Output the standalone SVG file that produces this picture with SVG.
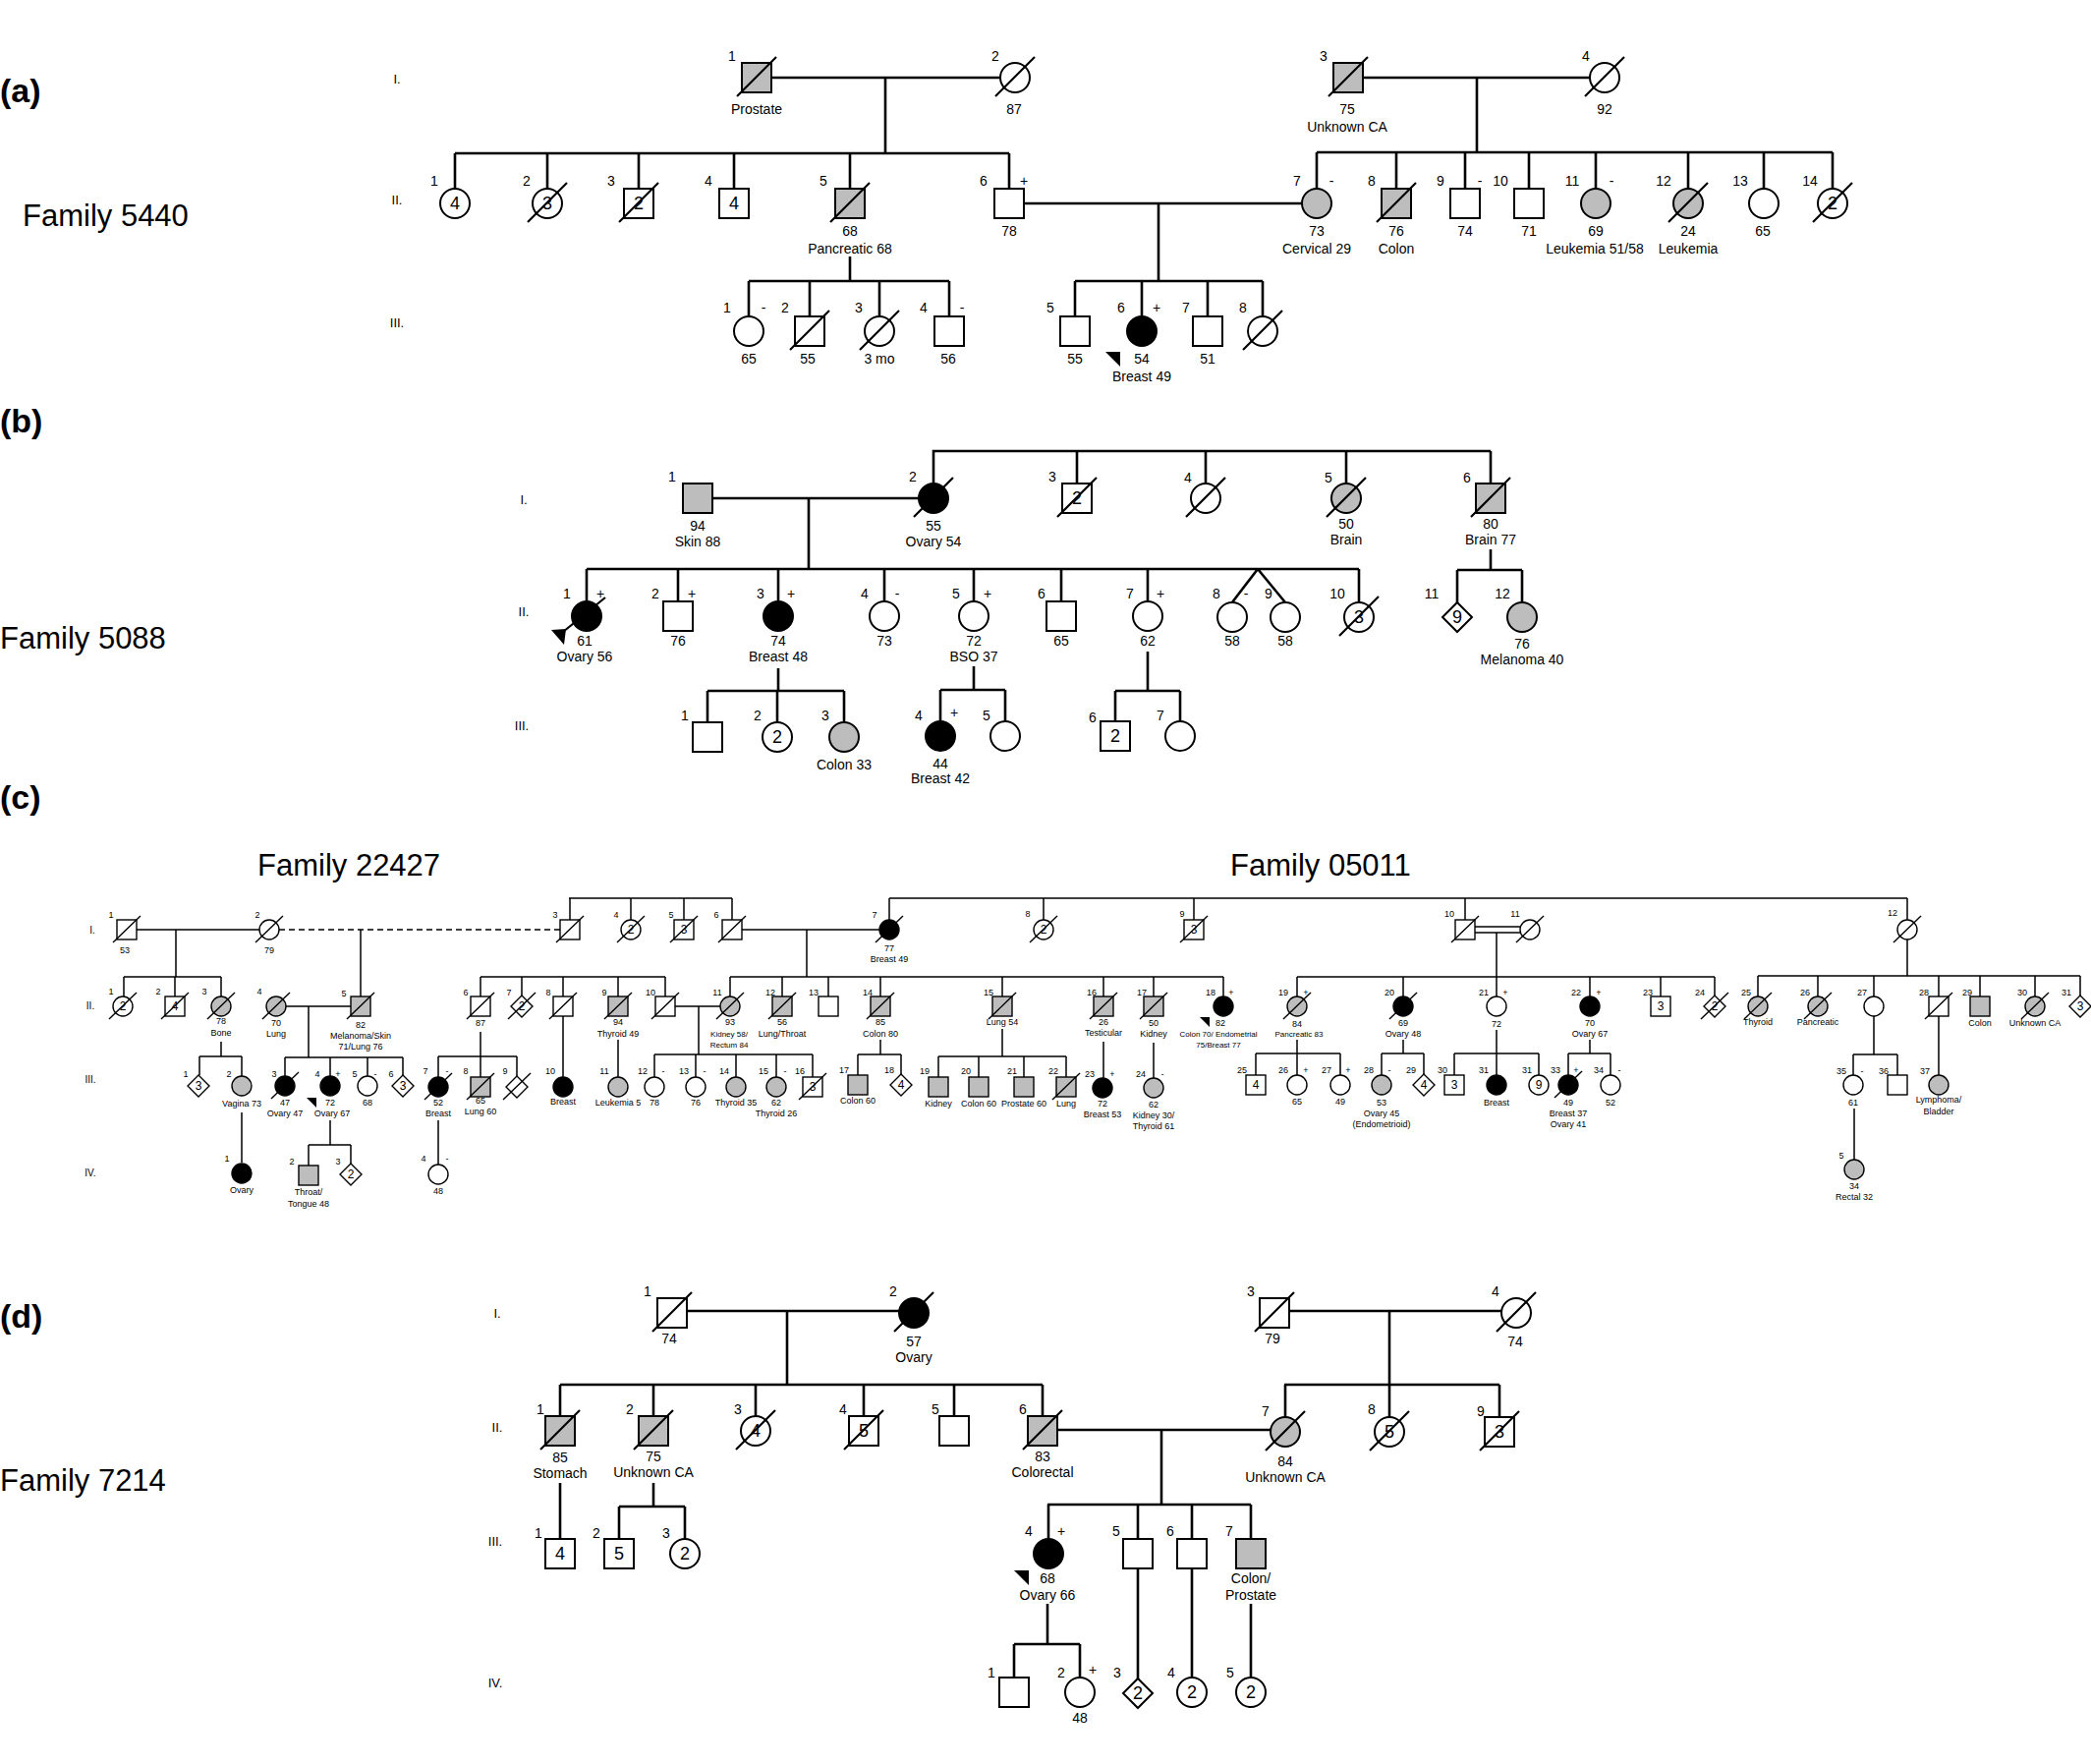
<svg xmlns="http://www.w3.org/2000/svg" xmlns:xlink="http://www.w3.org/1999/xlink" width="2128" height="1795" viewBox="0 0 2128 1795">
<style>
.L{stroke:#000;stroke-width:2.6;fill:none}
.l{stroke:#000;stroke-width:1.5;fill:none}
.dash{stroke:#000;stroke-width:1.5;fill:none;stroke-dasharray:6 4}
.w{fill:#fff}.g{fill:#bdbdbd}.b{fill:#000}
text{font-family:"Liberation Sans",Arial,sans-serif;fill:#000;text-anchor:middle}
.t{font-size:14px}
.i{font-size:18px}
.u{font-size:9px}
.u8{font-size:8px}
.v{font-size:12px}
.gen{font-size:13px}
.gc{font-size:10px}
.F{font-size:31px;text-anchor:start}
.P{font-size:34px;font-weight:bold;text-anchor:start}
</style>
<defs>
<rect id="S" x="-15" y="-15" width="30" height="30" stroke="#000" stroke-width="2"/>
<circle id="C" r="15" stroke="#000" stroke-width="2"/>
<path id="D" d="M0-15L15 0 0 15-15 0Z" stroke="#000" stroke-width="2"/>
<path id="X" d="M-20 19L20-21" stroke="#000" stroke-width="2.2" fill="none"/>
<rect id="s" x="-10" y="-10" width="20" height="20" stroke="#000" stroke-width="1.4"/>
<circle id="c" r="10" stroke="#000" stroke-width="1.4"/>
<path id="d" d="M0-11L11 0 0 11-11 0Z" stroke="#000" stroke-width="1.4"/>
<path id="x" d="M-14 13L14-14" stroke="#000" stroke-width="1.4" fill="none"/>
<path id="PA" d="M0 0H15V15Z" fill="#000"/>
<path id="pa" d="M0 0H10V10Z" fill="#000"/>
</defs>
<rect width="2128" height="1795" fill="#fff"/>

<!-- ===== Panel (a) ===== -->
<g id="panel-a-labels">
<text class="P" x="0" y="104">(a)</text>
<text class="F" x="23" y="230">Family 5440</text>
<text class="gen" x="404" y="85">I.</text>
<text class="gen" x="404" y="208">II.</text>
<text class="gen" x="404" y="333">III.</text>
</g>
<g id="connectors-a" class="L">
<path d="M785 79H1018M901 79V156M463 156H1027M463 156V192M557 156V192M650 156V192M747 156V192M865 156V192M1027 156V192"/>
<path d="M1387 79H1618M1503 79V155M1340 155H1865M1340 155V192M1421 155V192M1491 155V192M1556 155V192M1624 155V192M1718 155V192M1795 155V192M1865 155V192"/>
<path d="M1042 207H1325M1179 207V286M1094 286H1285M1094 286V322M1162 286V322M1229 286V322M1285 286V322"/>
<path d="M865 261V286M762 286H966M762 286V322M824 286V322M895 286V322M966 286V322"/>
</g>
<g id="a-I1"><use href="#S" x="770" y="79" class="g"/><use href="#X" x="770" y="79"/><text class="t" x="745" y="62">1</text><text class="t" x="770" y="116">Prostate</text></g>
<g id="a-I2"><use href="#C" x="1033" y="79" class="w"/><use href="#X" x="1033" y="79"/><text class="t" x="1013" y="62">2</text><text class="t" x="1032" y="116">87</text></g>
<g id="a-I3"><use href="#S" x="1372" y="79" class="g"/><use href="#X" x="1372" y="79"/><text class="t" x="1347" y="62">3</text><text class="t" x="1371" y="116">75</text><text class="t" x="1371" y="134">Unknown CA</text></g>
<g id="a-I4"><use href="#C" x="1633" y="79" class="w"/><use href="#X" x="1633" y="79"/><text class="t" x="1614" y="62">4</text><text class="t" x="1633" y="116">92</text></g>
<g id="a-II1"><use href="#C" x="463" y="207" class="w"/><text class="i" x="463" y="213">4</text><text class="t" x="442" y="189">1</text></g>
<g id="a-II2"><use href="#C" x="557" y="207" class="w"/><text class="i" x="557" y="213">3</text><use href="#X" x="557" y="207"/><text class="t" x="536" y="189">2</text></g>
<g id="a-II3"><use href="#S" x="650" y="207" class="w"/><text class="i" x="650" y="213">2</text><use href="#X" x="650" y="207"/><text class="t" x="622" y="189">3</text></g>
<g id="a-II4"><use href="#S" x="747" y="207" class="w"/><text class="i" x="747" y="213">4</text><text class="t" x="721" y="189">4</text></g>
<g id="a-II5"><use href="#S" x="865" y="207" class="g"/><use href="#X" x="865" y="207"/><text class="t" x="838" y="189">5</text><text class="t" x="865" y="240">68</text><text class="t" x="865" y="258">Pancreatic 68</text></g>
<g id="a-II6"><use href="#S" x="1027" y="207" class="w"/><text class="t" x="1001" y="189">6</text><text class="t" x="1042" y="189">+</text><text class="t" x="1027" y="240">78</text></g>
<g id="a-II7"><use href="#C" x="1340" y="207" class="g"/><text class="t" x="1320" y="189">7</text><text class="t" x="1355" y="189">-</text><text class="t" x="1340" y="240">73</text><text class="t" x="1340" y="258">Cervical 29</text></g>
<g id="a-II8"><use href="#S" x="1421" y="207" class="g"/><use href="#X" x="1421" y="207"/><text class="t" x="1396" y="189">8</text><text class="t" x="1421" y="240">76</text><text class="t" x="1421" y="258">Colon</text></g>
<g id="a-II9"><use href="#S" x="1491" y="207" class="w"/><text class="t" x="1466" y="189">9</text><text class="t" x="1506" y="189">-</text><text class="t" x="1491" y="240">74</text></g>
<g id="a-II10"><use href="#S" x="1556" y="207" class="w"/><text class="t" x="1527" y="189">10</text><text class="t" x="1556" y="240">71</text></g>
<g id="a-II11"><use href="#C" x="1624" y="207" class="g"/><text class="t" x="1600" y="189">11</text><text class="t" x="1640" y="189">-</text><text class="t" x="1624" y="240">69</text><text class="t" x="1623" y="258">Leukemia 51/58</text></g>
<g id="a-II12"><use href="#C" x="1718" y="207" class="g"/><use href="#X" x="1718" y="207"/><text class="t" x="1693" y="189">12</text><text class="t" x="1718" y="240">24</text><text class="t" x="1718" y="258">Leukemia</text></g>
<g id="a-II13"><use href="#C" x="1795" y="207" class="w"/><text class="t" x="1771" y="189">13</text><text class="t" x="1794" y="240">65</text></g>
<g id="a-II14"><use href="#C" x="1865" y="207" class="w"/><text class="i" x="1865" y="213">2</text><use href="#X" x="1865" y="207"/><text class="t" x="1842" y="189">14</text></g>
<g id="a-III1"><use href="#C" x="762" y="337" class="w"/><text class="t" x="740" y="318">1</text><text class="t" x="777" y="318">-</text><text class="t" x="762" y="370">65</text></g>
<g id="a-III2"><use href="#S" x="824" y="337" class="w"/><use href="#X" x="824" y="337"/><text class="t" x="799" y="318">2</text><text class="t" x="822" y="370">55</text></g>
<g id="a-III3"><use href="#C" x="895" y="337" class="w"/><use href="#X" x="895" y="337"/><text class="t" x="874" y="318">3</text><text class="t" x="895" y="370">3 mo</text></g>
<g id="a-III4"><use href="#S" x="966" y="337" class="w"/><text class="t" x="940" y="318">4</text><text class="t" x="979" y="318">-</text><text class="t" x="965" y="370">56</text></g>
<g id="a-III5"><use href="#S" x="1094" y="337" class="w"/><text class="t" x="1069" y="318">5</text><text class="t" x="1094" y="370">55</text></g>
<g id="a-III6"><use href="#C" x="1162" y="337" class="b"/><text class="t" x="1141" y="318">6</text><text class="t" x="1177" y="318">+</text><use href="#PA" x="1125" y="358"/><text class="t" x="1162" y="370">54</text><text class="t" x="1162" y="388">Breast 49</text></g>
<g id="a-III7"><use href="#S" x="1229" y="337" class="w"/><text class="t" x="1207" y="318">7</text><text class="t" x="1229" y="370">51</text></g>
<g id="a-III8"><use href="#C" x="1285" y="337" class="w"/><use href="#X" x="1285" y="337"/><text class="t" x="1265" y="318">8</text></g>

<!-- ===== Panel (b) ===== -->
<g id="panel-b-labels">
<text class="P" x="0" y="440">(b)</text>
<text class="F" x="0" y="660">Family 5088</text>
<text class="gen" x="533" y="513">I.</text>
<text class="gen" x="533" y="627">II.</text>
<text class="gen" x="531" y="743">III.</text>
</g>
<g id="connectors-b" class="L">
<path d="M724 507H935M823 507V579M597 579H1383M597 579V612M690 579V612M792 579V612M900 579V612M991 579V612M1080 579V612M1168 579V612M1383 579V613M1280 579L1254 613M1280 579L1308 613"/>
<path d="M950 492V459H1517M1096 459V492M1227 459V492M1370 459V492M1517 459V492"/>
<path d="M1517 559V580M1483 580H1549M1483 580V614M1549 580V613"/>
<path d="M792 680V703M720 703H859M720 703V735M791 703V735M859 703V735"/>
<path d="M991 678V702M957 702H1023M957 702V734M1023 702V734"/>
<path d="M1168 663V703M1135 703H1201M1135 703V734M1201 703V734"/>
</g>
<g id="b-I1"><use href="#S" x="710" y="507" class="g"/><text class="t" x="684" y="490">1</text><text class="t" x="710" y="540">94</text><text class="t" x="710" y="556">Skin 88</text></g>
<g id="b-I2"><use href="#C" x="950" y="507" class="b"/><use href="#X" x="950" y="507"/><text class="t" x="929" y="490">2</text><text class="t" x="950" y="540">55</text><text class="t" x="950" y="556">Ovary 54</text></g>
<g id="b-I3"><use href="#S" x="1096" y="507" class="w"/><text class="i" x="1096" y="513">2</text><use href="#X" x="1096" y="507"/><text class="t" x="1071" y="490">3</text></g>
<g id="b-I4"><use href="#C" x="1227" y="507" class="w"/><use href="#X" x="1227" y="507"/><text class="t" x="1209" y="491">4</text></g>
<g id="b-I5"><use href="#C" x="1370" y="507" class="g"/><use href="#X" x="1370" y="507"/><text class="t" x="1352" y="491">5</text><text class="t" x="1370" y="538">50</text><text class="t" x="1370" y="554">Brain</text></g>
<g id="b-I6"><use href="#S" x="1517" y="507" class="g"/><use href="#X" x="1517" y="507"/><text class="t" x="1493" y="491">6</text><text class="t" x="1517" y="538">80</text><text class="t" x="1517" y="554">Brain 77</text></g>
<g id="b-II1"><use href="#C" x="597" y="627" class="b"/><path d="M616 608L573 643" stroke="#000" stroke-width="2.2"/><path d="M561 641L576 640 574 656Z" fill="#000"/><text class="t" x="577" y="609">1</text><text class="t" x="611" y="609">+</text><text class="t" x="595" y="657">61</text><text class="t" x="595" y="673">Ovary 56</text></g>
<g id="b-II2"><use href="#S" x="690" y="627" class="w"/><text class="t" x="667" y="609">2</text><text class="t" x="704" y="609">+</text><text class="t" x="690" y="657">76</text></g>
<g id="b-II3"><use href="#C" x="792" y="627" class="b"/><text class="t" x="774" y="609">3</text><text class="t" x="805" y="609">+</text><text class="t" x="792" y="657">74</text><text class="t" x="792" y="673">Breast 48</text></g>
<g id="b-II4"><use href="#C" x="900" y="627" class="w"/><text class="t" x="880" y="609">4</text><text class="t" x="913" y="609">-</text><text class="t" x="900" y="657">73</text></g>
<g id="b-II5"><use href="#C" x="991" y="627" class="w"/><text class="t" x="973" y="609">5</text><text class="t" x="1005" y="609">+</text><text class="t" x="991" y="657">72</text><text class="t" x="991" y="673">BSO 37</text></g>
<g id="b-II6"><use href="#S" x="1080" y="627" class="w"/><text class="t" x="1060" y="609">6</text><text class="t" x="1080" y="657">65</text></g>
<g id="b-II7"><use href="#C" x="1168" y="627" class="w"/><text class="t" x="1150" y="609">7</text><text class="t" x="1181" y="609">+</text><text class="t" x="1168" y="657">62</text></g>
<g id="b-II8"><use href="#C" x="1254" y="628" class="w"/><text class="t" x="1238" y="609">8</text><text class="t" x="1268" y="609">-</text><text class="t" x="1254" y="657">58</text></g>
<g id="b-II9"><use href="#C" x="1308" y="628" class="w"/><text class="t" x="1291" y="609">9</text><text class="t" x="1308" y="657">58</text></g>
<g id="b-II10"><use href="#C" x="1383" y="628" class="w"/><text class="i" x="1383" y="634">3</text><use href="#X" x="1383" y="628"/><text class="t" x="1361" y="609">10</text></g>
<g id="b-II11"><use href="#D" x="1483" y="628" class="w"/><text class="i" x="1483" y="634">9</text><text class="t" x="1457" y="609">11</text></g>
<g id="b-II12"><use href="#C" x="1549" y="628" class="g"/><text class="t" x="1529" y="609">12</text><text class="t" x="1549" y="660">76</text><text class="t" x="1549" y="676">Melanoma 40</text></g>
<g id="b-III1"><use href="#S" x="720" y="750" class="w"/><text class="t" x="697" y="733">1</text></g>
<g id="b-III2"><use href="#C" x="791" y="750" class="w"/><text class="i" x="791" y="756">2</text><text class="t" x="771" y="733">2</text></g>
<g id="b-III3"><use href="#C" x="859" y="750" class="g"/><text class="t" x="840" y="733">3</text><text class="t" x="859" y="783">Colon 33</text></g>
<g id="b-III4"><use href="#C" x="957" y="749" class="b"/><text class="t" x="935" y="733">4</text><text class="t" x="971" y="730">+</text><text class="t" x="957" y="782">44</text><text class="t" x="957" y="797">Breast 42</text></g>
<g id="b-III5"><use href="#C" x="1023" y="749" class="w"/><text class="t" x="1004" y="733">5</text></g>
<g id="b-III6"><use href="#S" x="1135" y="749" class="w"/><text class="i" x="1135" y="755">2</text><text class="t" x="1112" y="735">6</text></g>
<g id="b-III7"><use href="#C" x="1201" y="749" class="w"/><text class="t" x="1181" y="733">7</text></g>

<!-- ===== Panel (c) ===== -->
<g id="panel-c-labels">
<text class="P" x="0" y="823">(c)</text>
<text class="F" x="262" y="891">Family 22427</text>
<text class="F" x="1252" y="891">Family 05011</text>
<text class="gc" x="94" y="950">I.</text>
<text class="gc" x="92" y="1027">II.</text>
<text class="gc" x="92" y="1102">III.</text>
<text class="gc" x="92" y="1197">IV.</text>
</g>
<g id="connectors-c">
<path class="l" d="M139 946H264M179 946V994M126 994H225M126 994V1014M178 994V1014M225 994V1014M367 946V1014"/>
<path class="dash" d="M284 946H570"/>
<path class="l" d="M291 1024H357M314 1024V1076M290 1076H410M290 1076V1095M336 1076V1095M374 1076V1095M410 1076V1094"/>
<path class="l" d="M225 1060V1075M203 1075H246M203 1075V1094M246 1075V1095M246 1132V1183M336 1140V1165M314 1165H357M314 1165V1186M357 1165V1184"/>
<path class="l" d="M579 914H745M580 914V936M642 914V936M696 914V936M745 914V936M755 946H895M821 946V994"/>
<path class="l" d="M905 914H1941M905 914V936M1062 914V936M1215 914V936M1491 914V936M1941 914V936M1501 943H1547M1501 949H1547M1523 949V994"/>
<path class="l" d="M489 994H677M489 994V1014M531 994V1013M573 994V1014M629 994V1014M677 994V1014"/>
<path class="l" d="M687 1024H733M711 1024V1073M666 1073H827M666 1073V1096M708 1073V1096M749 1073V1096M790 1073V1096M827 1073V1096"/>
<path class="l" d="M743 994H1245M743 994V1014M796 994V1014M843 994V1014M896 994V1014M1020 994V1014M1123 994V1014M1174 994V1014M1245 994V1014"/>
<path class="l" d="M573 1034V1096M489 1050V1075M446 1075H526M446 1075V1096M489 1075V1096M526 1075V1095M446 1140V1185M629 1058V1096"/>
<path class="l" d="M896 1058V1073M873 1073H917M873 1073V1094M917 1073V1093M1020 1047V1075M955 1075H1085M955 1075V1096M996 1075V1096M1042 1075V1096M1085 1075V1096M1123 1060V1097M1174 1061V1097"/>
<path class="l" d="M1320 994H1745M1320 994V1014M1428 994V1014M1523 994V1014M1618 994V1014M1690 994V1014M1745 994V1013"/>
<path class="l" d="M1941 956V993M1789 993H2117M1789 993V1014M1850 993V1014M1907 993V1014M1973 993V1014M2015 993V1014M2071 993V1014M2117 993V1013"/>
<path class="l" d="M1320 1058V1072M1278 1072H1364M1278 1072V1094M1320 1072V1094M1364 1072V1094M1428 1058V1072M1406 1072H1449M1406 1072V1094M1449 1072V1093"/>
<path class="l" d="M1523 1048V1094M1480 1072H1566M1480 1072V1094M1566 1072V1094M1618 1058V1072M1596 1072H1639M1596 1072V1094M1639 1072V1094"/>
<path class="l" d="M1907 1034V1073M1886 1073H1931M1886 1073V1094M1931 1073V1094M1973 1034V1094M1887 1128V1180"/>
</g>
<g id="c22-I1"><use href="#s" x="129" y="946" class="w"/><use href="#x" x="129" y="946"/><text class="u" x="113" y="934">1</text><text class="u" x="127" y="970">53</text></g>
<g id="c22-I2"><use href="#c" x="274" y="946" class="w"/><use href="#x" x="274" y="946"/><text class="u" x="262" y="934">2</text><text class="u" x="274" y="970">79</text></g>
<g id="c22-II1"><use href="#c" x="125" y="1024" class="w"/><text class="v" x="125" y="1028">2</text><use href="#x" x="125" y="1024"/><text class="u" x="113" y="1012">1</text></g>
<g id="c22-II2"><use href="#s" x="178" y="1024" class="w"/><text class="v" x="178" y="1028">4</text><use href="#x" x="178" y="1024"/><text class="u" x="161" y="1012">2</text></g>
<g id="c22-II3"><use href="#c" x="225" y="1024" class="g"/><use href="#x" x="225" y="1024"/><text class="u" x="208" y="1012">3</text><text class="u" x="225" y="1042">78</text><text class="u" x="225" y="1054">Bone</text></g>
<g id="c22-II4"><use href="#c" x="281" y="1024" class="g"/><use href="#x" x="281" y="1024"/><text class="u" x="264" y="1012">4</text><text class="u" x="281" y="1044">70</text><text class="u" x="281" y="1055">Lung</text></g>
<g id="c22-II5"><use href="#s" x="367" y="1024" class="g"/><use href="#x" x="367" y="1024"/><text class="u" x="350" y="1014">5</text><text class="u" x="367" y="1046">82</text><text class="u" x="367" y="1057">Melanoma/Skin</text><text class="u" x="367" y="1068">71/Lung 76</text></g>
<g id="c22-III1"><use href="#d" x="202" y="1105" class="w"/><text class="v" x="202" y="1109">3</text><text class="u" x="189" y="1096">1</text></g>
<g id="c22-III2"><use href="#c" x="246" y="1105" class="g"/><text class="u" x="233" y="1096">2</text><text class="u" x="246" y="1126">Vagina 73</text></g>
<g id="c22-III3"><use href="#c" x="290" y="1105" class="b"/><use href="#x" x="290" y="1105"/><text class="u" x="279" y="1096">3</text><text class="u" x="290" y="1125">47</text><text class="u" x="290" y="1136">Ovary 47</text></g>
<g id="c22-III4"><use href="#c" x="336" y="1105" class="b"/><text class="u" x="323" y="1096">4</text><text class="u" x="344" y="1096">+</text><use href="#pa" x="312" y="1117"/><text class="u" x="336" y="1125">72</text><text class="u" x="338" y="1136">Ovary 67</text></g>
<g id="c22-III5"><use href="#c" x="374" y="1105" class="w"/><text class="u" x="361" y="1096">5</text><text class="u" x="382" y="1096">-</text><text class="u" x="374" y="1125">68</text></g>
<g id="c22-III6"><use href="#d" x="410" y="1105" class="w"/><text class="v" x="410" y="1109">3</text><text class="u" x="398" y="1096">6</text></g>
<g id="c22-IV1"><use href="#c" x="246" y="1194" class="b"/><text class="u" x="231" y="1182">1</text><text class="u" x="246" y="1214">Ovary</text></g>
<g id="c22-IV2"><use href="#s" x="314" y="1196" class="g"/><text class="u" x="297" y="1185">2</text><text class="u" x="314" y="1216">Throat/</text><text class="u" x="314" y="1228">Tongue 48</text></g>
<g id="c22-IV3"><use href="#d" x="357" y="1195" class="w"/><text class="v" x="357" y="1199">2</text><text class="u" x="344" y="1185">3</text></g>
<g id="c-I3"><use href="#s" x="580" y="946" class="w"/><use href="#x" x="580" y="946"/><text class="u" x="565" y="934">3</text></g>
<g id="c-I4"><use href="#c" x="642" y="946" class="w"/><text class="v" x="642" y="950">2</text><use href="#x" x="642" y="946"/><text class="u" x="627" y="934">4</text></g>
<g id="c-I5"><use href="#s" x="696" y="946" class="w"/><text class="v" x="696" y="950">3</text><use href="#x" x="696" y="946"/><text class="u" x="683" y="934">5</text></g>
<g id="c-I6"><use href="#s" x="745" y="946" class="w"/><use href="#x" x="745" y="946"/><text class="u" x="729" y="934">6</text></g>
<g id="c-I7"><use href="#c" x="905" y="946" class="b"/><use href="#x" x="905" y="946"/><text class="u" x="890" y="934">7</text><text class="u" x="905" y="968">77</text><text class="u" x="905" y="979">Breast 49</text></g>
<g id="c-I8"><use href="#c" x="1062" y="946" class="w"/><text class="v" x="1062" y="950">2</text><use href="#x" x="1062" y="946"/><text class="u" x="1046" y="933">8</text></g>
<g id="c-I9"><use href="#s" x="1215" y="946" class="w"/><text class="v" x="1215" y="950">3</text><use href="#x" x="1215" y="946"/><text class="u" x="1203" y="933">9</text></g>
<g id="c-I10"><use href="#s" x="1491" y="946" class="w"/><use href="#x" x="1491" y="946"/><text class="u" x="1475" y="933">10</text></g>
<g id="c-I11"><use href="#c" x="1557" y="946" class="w"/><use href="#x" x="1557" y="946"/><text class="u" x="1542" y="933">11</text></g>
<g id="c-I12"><use href="#c" x="1941" y="946" class="w"/><use href="#x" x="1941" y="946"/><text class="u" x="1926" y="932">12</text></g>
<g id="c-II6"><use href="#s" x="489" y="1024" class="w"/><use href="#x" x="489" y="1024"/><text class="u" x="474" y="1013">6</text><text class="u" x="489" y="1044">87</text></g>
<g id="c-II7"><use href="#d" x="531" y="1024" class="w"/><text class="v" x="531" y="1028">2</text><use href="#x" x="531" y="1024"/><text class="u" x="518" y="1013">7</text></g>
<g id="c-II8"><use href="#s" x="573" y="1024" class="w"/><use href="#x" x="573" y="1024"/><text class="u" x="558" y="1013">8</text></g>
<g id="c-II9"><use href="#s" x="629" y="1024" class="g"/><use href="#x" x="629" y="1024"/><text class="u" x="615" y="1013">9</text><text class="u" x="629" y="1043">94</text><text class="u" x="629" y="1055">Thyroid 49</text></g>
<g id="c-II10"><use href="#s" x="677" y="1024" class="w"/><use href="#x" x="677" y="1024"/><text class="u" x="662" y="1013">10</text></g>
<g id="c-II11"><use href="#c" x="743" y="1024" class="g"/><use href="#x" x="743" y="1024"/><text class="u" x="730" y="1013">11</text><text class="u" x="743" y="1043">93</text><text class="u8" x="742" y="1055">Kidney 58/</text><text class="u8" x="742" y="1066">Rectum 84</text></g>
<g id="c-II12"><use href="#s" x="796" y="1024" class="g"/><use href="#x" x="796" y="1024"/><text class="u" x="784" y="1013">12</text><text class="u" x="796" y="1043">56</text><text class="u" x="796" y="1055">Lung/Throat</text></g>
<g id="c-II13"><use href="#s" x="843" y="1024" class="w"/><text class="u" x="828" y="1013">13</text></g>
<g id="c-II14"><use href="#s" x="896" y="1024" class="g"/><use href="#x" x="896" y="1024"/><text class="u" x="883" y="1013">14</text><text class="u" x="896" y="1043">85</text><text class="u" x="896" y="1055">Colon 80</text></g>
<g id="c-II15"><use href="#s" x="1020" y="1024" class="g"/><use href="#x" x="1020" y="1024"/><text class="u" x="1006" y="1013">15</text><text class="u" x="1020" y="1043">Lung 54</text></g>
<g id="c-II16"><use href="#s" x="1123" y="1024" class="g"/><use href="#x" x="1123" y="1024"/><text class="u" x="1111" y="1013">16</text><text class="u" x="1123" y="1043">26</text><text class="u" x="1123" y="1054">Testicular</text></g>
<g id="c-II17"><use href="#s" x="1174" y="1024" class="g"/><use href="#x" x="1174" y="1024"/><text class="u" x="1162" y="1013">17</text><text class="u" x="1174" y="1044">50</text><text class="u" x="1174" y="1055">Kidney</text></g>
<g id="c-II18"><use href="#c" x="1245" y="1024" class="b"/><text class="u" x="1232" y="1013">18</text><text class="u" x="1253" y="1013">+</text><use href="#pa" x="1221" y="1035"/><text class="u" x="1242" y="1044">82</text><text class="u8" x="1240" y="1055">Colon 70/ Endometrial</text><text class="u8" x="1240" y="1066">75/Breast 77</text></g>
<g id="c-III10"><use href="#c" x="573" y="1106" class="b"/><text class="u" x="560" y="1093">10</text><text class="u" x="573" y="1124">Breast</text></g>
<g id="c-III7"><use href="#c" x="446" y="1106" class="b"/><use href="#x" x="446" y="1106"/><text class="u" x="433" y="1093">7</text><text class="u" x="455" y="1093">-</text><text class="u" x="446" y="1125">52</text><text class="u" x="446" y="1136">Breast</text></g>
<g id="c-III8"><use href="#s" x="489" y="1106" class="g"/><use href="#x" x="489" y="1106"/><text class="u" x="474" y="1093">8</text><text class="u" x="489" y="1123">65</text><text class="u" x="489" y="1134">Lung 60</text></g>
<g id="c-III9"><use href="#d" x="526" y="1106" class="w"/><use href="#x" x="526" y="1106"/><text class="u" x="514" y="1093">9</text></g>
<g id="c-IV4"><use href="#c" x="446" y="1195" class="w"/><text class="u" x="431" y="1182">4</text><text class="u" x="455" y="1182">-</text><text class="u" x="446" y="1215">48</text></g>
<g id="c-III11"><use href="#c" x="629" y="1106" class="g"/><text class="u" x="615" y="1093">11</text><text class="u" x="629" y="1125">Leukemia 5</text></g>
<g id="c-III12"><use href="#c" x="666" y="1106" class="w"/><text class="u" x="654" y="1093">12</text><text class="u" x="675" y="1093">-</text><text class="u" x="666" y="1125">78</text></g>
<g id="c-III13"><use href="#c" x="708" y="1106" class="w"/><text class="u" x="696" y="1093">13</text><text class="u" x="717" y="1093">-</text><text class="u" x="708" y="1125">76</text></g>
<g id="c-III14"><use href="#c" x="749" y="1106" class="g"/><text class="u" x="737" y="1093">14</text><text class="u" x="749" y="1125">Thyroid 35</text></g>
<g id="c-III15"><use href="#c" x="790" y="1106" class="g"/><text class="u" x="777" y="1093">15</text><text class="u" x="799" y="1093">-</text><text class="u" x="790" y="1125">62</text><text class="u" x="790" y="1136">Thyroid 26</text></g>
<g id="c-III16"><use href="#s" x="827" y="1106" class="w"/><text class="v" x="827" y="1110">3</text><use href="#x" x="827" y="1106"/><text class="u" x="814" y="1093">16</text></g>
<g id="c-III17"><use href="#s" x="873" y="1104" class="g"/><text class="u" x="859" y="1092">17</text><text class="u" x="873" y="1123">Colon 60</text></g>
<g id="c-III18"><use href="#d" x="917" y="1104" class="w"/><text class="v" x="917" y="1108">4</text><text class="u" x="905" y="1092">18</text></g>
<g id="c-III19"><use href="#s" x="955" y="1106" class="g"/><text class="u" x="941" y="1093">19</text><text class="u" x="955" y="1126">Kidney</text></g>
<g id="c-III20"><use href="#s" x="996" y="1106" class="g"/><text class="u" x="983" y="1093">20</text><text class="u" x="996" y="1126">Colon 60</text></g>
<g id="c-III21"><use href="#s" x="1042" y="1106" class="g"/><text class="u" x="1030" y="1093">21</text><text class="u" x="1042" y="1126">Prostate 60</text></g>
<g id="c-III22"><use href="#s" x="1085" y="1106" class="g"/><use href="#x" x="1085" y="1106"/><text class="u" x="1072" y="1093">22</text><text class="u" x="1085" y="1126">Lung</text></g>
<g id="c-III23"><use href="#c" x="1122" y="1107" class="b"/><text class="u" x="1109" y="1096">23</text><text class="u" x="1132" y="1096">+</text><text class="u" x="1122" y="1126">72</text><text class="u" x="1122" y="1137">Breast 53</text></g>
<g id="c-III24"><use href="#c" x="1174" y="1107" class="g"/><text class="u" x="1161" y="1096">24</text><text class="u" x="1183" y="1096">-</text><text class="u" x="1174" y="1127">62</text><text class="u" x="1174" y="1138">Kidney 30/</text><text class="u" x="1174" y="1149">Thyroid 61</text></g>
<g id="c-II19"><use href="#c" x="1320" y="1024" class="g"/><use href="#x" x="1320" y="1024"/><text class="u" x="1306" y="1013">19</text><text class="u" x="1329" y="1013">+</text><text class="u" x="1320" y="1045">84</text><text class="u8" x="1322" y="1055">Pancreatic 83</text></g>
<g id="c-II20"><use href="#c" x="1428" y="1024" class="b"/><use href="#x" x="1428" y="1024"/><text class="u" x="1414" y="1013">20</text><text class="u" x="1428" y="1044">69</text><text class="u" x="1428" y="1055">Ovary 48</text></g>
<g id="c-II21"><use href="#c" x="1523" y="1024" class="w"/><text class="u" x="1510" y="1013">21</text><text class="u" x="1532" y="1013">+</text><text class="u" x="1523" y="1045">72</text></g>
<g id="c-II22"><use href="#c" x="1618" y="1024" class="b"/><text class="u" x="1604" y="1013">22</text><text class="u" x="1627" y="1013">+</text><text class="u" x="1618" y="1044">70</text><text class="u" x="1618" y="1055">Ovary 67</text></g>
<g id="c-II23"><use href="#s" x="1690" y="1024" class="w"/><text class="v" x="1690" y="1028">3</text><text class="u" x="1677" y="1013">23</text></g>
<g id="c-II24"><use href="#d" x="1745" y="1024" class="w"/><text class="v" x="1745" y="1028">2</text><use href="#x" x="1745" y="1024"/><text class="u" x="1730" y="1013">24</text></g>
<g id="c-II25"><use href="#c" x="1789" y="1024" class="g"/><use href="#x" x="1789" y="1024"/><text class="u" x="1777" y="1013">25</text><text class="u" x="1789" y="1043">Thyroid</text></g>
<g id="c-II26"><use href="#c" x="1850" y="1024" class="g"/><use href="#x" x="1850" y="1024"/><text class="u" x="1837" y="1013">26</text><text class="u" x="1850" y="1043">Pancreatic</text></g>
<g id="c-II27"><use href="#c" x="1907" y="1024" class="w"/><text class="u" x="1895" y="1013">27</text></g>
<g id="c-II28"><use href="#s" x="1973" y="1024" class="w"/><use href="#x" x="1973" y="1024"/><text class="u" x="1958" y="1013">28</text></g>
<g id="c-II29"><use href="#s" x="2015" y="1024" class="g"/><text class="u" x="2002" y="1013">29</text><text class="u" x="2015" y="1044">Colon</text></g>
<g id="c-II30"><use href="#c" x="2071" y="1024" class="g"/><use href="#x" x="2071" y="1024"/><text class="u" x="2058" y="1013">30</text><text class="u" x="2071" y="1044">Unknown CA</text></g>
<g id="c-II31"><use href="#d" x="2117" y="1024" class="w"/><text class="v" x="2117" y="1028">3</text><text class="u" x="2103" y="1013">31</text></g>
<g id="c-III25"><use href="#s" x="1278" y="1104" class="w"/><text class="v" x="1278" y="1108">4</text><text class="u" x="1264" y="1092">25</text></g>
<g id="c-III26"><use href="#c" x="1320" y="1104" class="w"/><text class="u" x="1306" y="1092">26</text><text class="u" x="1329" y="1092">+</text><text class="u" x="1320" y="1124">65</text></g>
<g id="c-III27"><use href="#c" x="1364" y="1104" class="w"/><text class="u" x="1350" y="1092">27</text><text class="u" x="1372" y="1092">+</text><text class="u" x="1364" y="1124">49</text></g>
<g id="c-III28"><use href="#c" x="1406" y="1104" class="g"/><text class="u" x="1393" y="1092">28</text><text class="u" x="1414" y="1092">-</text><text class="u" x="1406" y="1125">53</text><text class="u" x="1406" y="1136">Ovary 45</text><text class="u" x="1406" y="1147">(Endometrioid)</text></g>
<g id="c-III29"><use href="#d" x="1449" y="1104" class="w"/><text class="v" x="1449" y="1108">4</text><text class="u" x="1436" y="1092">29</text></g>
<g id="c-III30"><use href="#s" x="1480" y="1104" class="w"/><text class="v" x="1480" y="1108">3</text><text class="u" x="1468" y="1092">30</text></g>
<g id="c-III31"><use href="#c" x="1523" y="1104" class="b"/><text class="u" x="1510" y="1092">31</text><text class="u" x="1523" y="1125">Breast</text></g>
<g id="c-III31b"><use href="#c" x="1566" y="1104" class="w"/><text class="v" x="1566" y="1108">9</text><text class="u" x="1554" y="1092">31</text></g>
<g id="c-III33"><use href="#c" x="1596" y="1104" class="b"/><use href="#x" x="1596" y="1104"/><text class="u" x="1583" y="1092">33</text><text class="u" x="1604" y="1092">+</text><text class="u" x="1596" y="1125">49</text><text class="u" x="1596" y="1136">Breast 37</text><text class="u" x="1596" y="1147">Ovary 41</text></g>
<g id="c-III34"><use href="#c" x="1639" y="1104" class="w"/><text class="u" x="1627" y="1092">34</text><text class="u" x="1648" y="1092">-</text><text class="u" x="1639" y="1125">52</text></g>
<g id="c-III35"><use href="#c" x="1886" y="1104" class="w"/><text class="u" x="1874" y="1093">35</text><text class="u" x="1895" y="1093">-</text><text class="u" x="1886" y="1125">61</text></g>
<g id="c-III36"><use href="#s" x="1931" y="1104" class="w"/><text class="u" x="1917" y="1093">36</text></g>
<g id="c-III37"><use href="#c" x="1973" y="1104" class="g"/><text class="u" x="1959" y="1093">37</text><text class="u" x="1973" y="1122">Lymphoma/</text><text class="u" x="1973" y="1134">Bladder</text></g>
<g id="c-IV5"><use href="#c" x="1887" y="1190" class="g"/><text class="u" x="1874" y="1179">5</text><text class="u" x="1887" y="1210">34</text><text class="u" x="1887" y="1221">Rectal 32</text></g>

<!-- ===== Panel (d) ===== -->
<g id="panel-d-labels">
<text class="P" x="0" y="1351">(d)</text>
<text class="F" x="0" y="1517">Family 7214</text>
<text class="gen" x="506" y="1341">I.</text>
<text class="gen" x="506" y="1457">II.</text>
<text class="gen" x="504" y="1573">III.</text>
<text class="gen" x="504" y="1717">IV.</text>
</g>
<g id="connectors-d" class="L">
<path d="M698 1334H915M801 1334V1409M570 1409H1061M570 1409V1441M665 1409V1441M769 1409V1441M879 1409V1441M971 1409V1441M1061 1409V1441"/>
<path d="M1311 1334H1528M1414 1334V1409M1307 1409H1526M1308 1409V1442M1414 1409V1442M1526 1409V1442"/>
<path d="M1076 1455H1293M1182 1455V1531M1066 1531H1273M1067 1531V1566M1158 1531V1566M1213 1531V1566M1273 1531V1566"/>
<path d="M570 1509V1566M665 1509V1533M630 1533H697M630 1533V1566M697 1533V1566"/>
<path d="M1066 1632V1673M1032 1673H1099M1032 1673V1707M1099 1673V1707M1158 1596V1709M1213 1596V1707M1273 1632V1707"/>
</g>
<g id="d-I1"><use href="#S" x="684" y="1336" class="w"/><use href="#X" x="684" y="1336"/><text class="t" x="659" y="1319">1</text><text class="t" x="681" y="1367">74</text></g>
<g id="d-I2"><use href="#C" x="930" y="1336" class="b"/><use href="#X" x="930" y="1336"/><text class="t" x="909" y="1319">2</text><text class="t" x="930" y="1370">57</text><text class="t" x="930" y="1386">Ovary</text></g>
<g id="d-I3"><use href="#S" x="1297" y="1336" class="w"/><use href="#X" x="1297" y="1336"/><text class="t" x="1273" y="1319">3</text><text class="t" x="1295" y="1367">79</text></g>
<g id="d-I4"><use href="#C" x="1543" y="1336" class="w"/><use href="#X" x="1543" y="1336"/><text class="t" x="1522" y="1319">4</text><text class="t" x="1542" y="1370">74</text></g>
<g id="d-II1"><use href="#S" x="570" y="1456" class="g"/><use href="#X" x="570" y="1456"/><text class="t" x="550" y="1439">1</text><text class="t" x="570" y="1488">85</text><text class="t" x="570" y="1504">Stomach</text></g>
<g id="d-II2"><use href="#S" x="665" y="1456" class="g"/><use href="#X" x="665" y="1456"/><text class="t" x="641" y="1439">2</text><text class="t" x="665" y="1487">75</text><text class="t" x="665" y="1503">Unknown CA</text></g>
<g id="d-II3"><use href="#C" x="769" y="1456" class="w"/><text class="i" x="769" y="1462">4</text><use href="#X" x="769" y="1456"/><text class="t" x="751" y="1439">3</text></g>
<g id="d-II4"><use href="#S" x="879" y="1456" class="w"/><text class="i" x="879" y="1462">5</text><use href="#X" x="879" y="1456"/><text class="t" x="858" y="1439">4</text></g>
<g id="d-II5"><use href="#S" x="971" y="1456" class="w"/><text class="t" x="952" y="1439">5</text></g>
<g id="d-II6"><use href="#S" x="1061" y="1456" class="g"/><use href="#X" x="1061" y="1456"/><text class="t" x="1041" y="1439">6</text><text class="t" x="1061" y="1487">83</text><text class="t" x="1061" y="1503">Colorectal</text></g>
<g id="d-II7"><use href="#C" x="1308" y="1457" class="g"/><use href="#X" x="1308" y="1457"/><text class="t" x="1288" y="1441">7</text><text class="t" x="1308" y="1492">84</text><text class="t" x="1308" y="1508">Unknown CA</text></g>
<g id="d-II8"><use href="#C" x="1414" y="1457" class="w"/><text class="i" x="1414" y="1463">5</text><use href="#X" x="1414" y="1457"/><text class="t" x="1396" y="1439">8</text></g>
<g id="d-II9"><use href="#S" x="1526" y="1457" class="w"/><text class="i" x="1526" y="1463">3</text><use href="#X" x="1526" y="1457"/><text class="t" x="1507" y="1441">9</text></g>
<g id="d-III1"><use href="#S" x="570" y="1581" class="w"/><text class="i" x="570" y="1587">4</text><text class="t" x="548" y="1565">1</text></g>
<g id="d-III2"><use href="#S" x="630" y="1581" class="w"/><text class="i" x="630" y="1587">5</text><text class="t" x="607" y="1565">2</text></g>
<g id="d-III3"><use href="#C" x="697" y="1581" class="w"/><text class="i" x="697" y="1587">2</text><text class="t" x="678" y="1565">3</text></g>
<g id="d-III4"><use href="#C" x="1067" y="1581" class="b"/><text class="t" x="1047" y="1563">4</text><text class="t" x="1080" y="1563">+</text><use href="#PA" x="1032" y="1598"/><text class="t" x="1066" y="1611">68</text><text class="t" x="1066" y="1628">Ovary 66</text></g>
<g id="d-III5"><use href="#S" x="1158" y="1581" class="w"/><text class="t" x="1136" y="1563">5</text></g>
<g id="d-III6"><use href="#S" x="1213" y="1581" class="w"/><text class="t" x="1191" y="1563">6</text></g>
<g id="d-III7"><use href="#S" x="1273" y="1581" class="g"/><text class="t" x="1251" y="1563">7</text><text class="t" x="1273" y="1611">Colon/</text><text class="t" x="1273" y="1628">Prostate</text></g>
<g id="d-IV1"><use href="#S" x="1032" y="1722" class="w"/><text class="t" x="1009" y="1707">1</text></g>
<g id="d-IV2"><use href="#C" x="1099" y="1722" class="w"/><text class="t" x="1080" y="1707">2</text><text class="t" x="1112" y="1704">+</text><text class="t" x="1099" y="1753">48</text></g>
<g id="d-IV3"><use href="#D" x="1158" y="1723" class="w"/><text class="i" x="1158" y="1729">2</text><text class="t" x="1137" y="1707">3</text></g>
<g id="d-IV4"><use href="#C" x="1213" y="1722" class="w"/><text class="i" x="1213" y="1728">2</text><text class="t" x="1192" y="1707">4</text></g>
<g id="d-IV5"><use href="#C" x="1273" y="1722" class="w"/><text class="i" x="1273" y="1728">2</text><text class="t" x="1252" y="1707">5</text></g>
</svg>
